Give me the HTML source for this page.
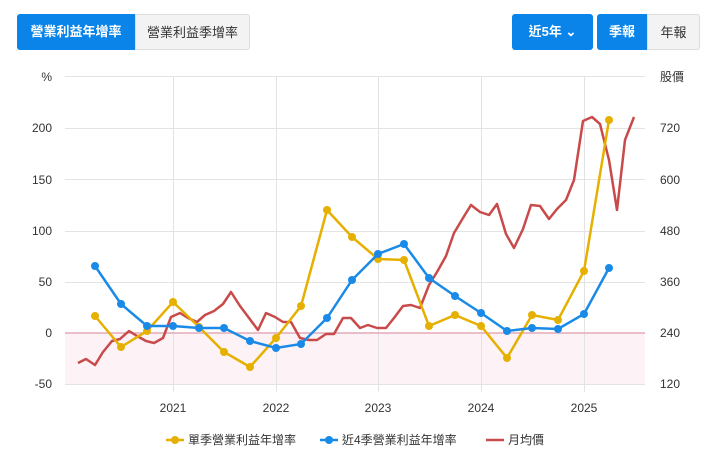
<!DOCTYPE html><html><head><meta charset="utf-8"><style>
body{margin:0;width:709px;height:460px;background:#fff;font-family:"Liberation Sans","Noto Sans CJK TC",sans-serif;overflow:hidden;position:relative}
.b{position:absolute;top:14px;height:36px;line-height:36px;font-size:13px;font-weight:bold;text-align:center;border-radius:3px;box-sizing:border-box}
.on{background:#0a84e8;color:#fff}.off{background:#f3f3f3;color:#333;border:1px solid #ddd}
</style></head><body>
<div class="b on" style="left:17px;width:118px;border-radius:3px 0 0 3px">營業利益年增率</div>
<div class="b off" style="left:135px;width:115px;border-radius:0 3px 3px 0;font-weight:normal">營業利益季增率</div>
<div class="b on" style="left:512px;width:81px">近5年 ⌄</div>
<div class="b on" style="left:597px;width:50px;border-radius:3px 0 0 3px">季報</div>
<div class="b off" style="left:647px;width:53px;border-radius:0 3px 3px 0;font-weight:normal">年報</div>
<svg width="709" height="460" style="position:absolute;left:0;top:0" font-family="Liberation Sans,Noto Sans CJK TC,sans-serif" font-size="12" fill="#333">
<rect x="65" y="333" width="580" height="51" fill="#fdf3f6"/>
<g stroke="#e3e3e3" stroke-width="1">
<line x1="65" x2="645" y1="76.5" y2="76.5"/><line x1="65" x2="645" y1="128.5" y2="128.5"/><line x1="65" x2="645" y1="179.5" y2="179.5"/><line x1="65" x2="645" y1="231.5" y2="231.5"/><line x1="65" x2="645" y1="282.5" y2="282.5"/><line x1="65" x2="645" y1="384.5" y2="384.5"/>
<line x1="173.5" x2="173.5" y1="76" y2="392"/><line x1="276.5" x2="276.5" y1="76" y2="392"/><line x1="378.5" x2="378.5" y1="76" y2="392"/><line x1="481.5" x2="481.5" y1="76" y2="392"/><line x1="584.5" x2="584.5" y1="76" y2="392"/>
</g>
<line x1="65" x2="645" y1="333" y2="333" stroke="#e3aab8" stroke-width="1.5"/>
<g text-anchor="end"><text x="52" y="81">%</text><text x="52" y="132">200</text><text x="52" y="184">150</text><text x="52" y="235">100</text><text x="52" y="286">50</text><text x="52" y="337">0</text><text x="52" y="388">-50</text></g>
<g><text x="660" y="81">股價</text><text x="660" y="132">720</text><text x="660" y="184">600</text><text x="660" y="235">480</text><text x="660" y="286">360</text><text x="660" y="337">240</text><text x="660" y="388">120</text></g>
<g text-anchor="middle"><text x="173" y="412">2021</text><text x="276" y="412">2022</text><text x="378" y="412">2023</text><text x="481" y="412">2024</text><text x="584" y="412">2025</text></g>
<polyline fill="none" stroke="#c94a4a" stroke-width="2.5" stroke-linejoin="round" points="78,363 86,359 95,365 103,352 112,341 120,339 129,331 137,336 146,341 154,343 163,338 171,317 180,313 188,318 197,322 205,315 214,311 223,304 231,292 240,306 249,318 258,330 266,313 275,317 283,322 291,322 300,338 309,340 317,340 326,334 334,334 343,318 351,318 360,328 368,325 377,328 386,328 394,318 403,306 411,305 420,308 429,285 437,272 446,256 454,233 463,218 471,205 480,212 489,215 497,204 506,234 514,248 523,229 531,205 540,206 549,219 557,209 566,200 574,180 583,121 592,117 600,124 609,160 617,210 625,140 634,117"/>
<g fill="#e6b000" stroke="none">
<polyline fill="none" stroke="#e6b000" stroke-width="2.5" points="95,316 121,347 147,331 173,302 199,327 224,352 250,367 276,338 301,306 327,210 352,237 378,259 404,260 429,326 455,315 481,326 507,358 532,315 558,320 584,271 609,120"/>
<circle cx="95" cy="316" r="4"/><circle cx="121" cy="347" r="4"/><circle cx="147" cy="331" r="4"/><circle cx="173" cy="302" r="4"/><circle cx="199" cy="327" r="4"/><circle cx="224" cy="352" r="4"/><circle cx="250" cy="367" r="4"/><circle cx="276" cy="338" r="4"/><circle cx="301" cy="306" r="4"/><circle cx="327" cy="210" r="4"/><circle cx="352" cy="237" r="4"/><circle cx="378" cy="259" r="4"/><circle cx="404" cy="260" r="4"/><circle cx="429" cy="326" r="4"/><circle cx="455" cy="315" r="4"/><circle cx="481" cy="326" r="4"/><circle cx="507" cy="358" r="4"/><circle cx="532" cy="315" r="4"/><circle cx="558" cy="320" r="4"/><circle cx="584" cy="271" r="4"/><circle cx="609" cy="120" r="4"/>
</g>
<g fill="#1a8ae8">
<polyline fill="none" stroke="#1a8ae8" stroke-width="2.5" points="95,266 121,304 147,326 173,326 199,328 224,328 250,341 276,348 301,344 327,318 352,280 378,254 404,244 429,278 455,296 481,313 507,331 532,328 558,329 584,314 609,268"/>
<circle cx="95" cy="266" r="4"/><circle cx="121" cy="304" r="4"/><circle cx="147" cy="326" r="4"/><circle cx="173" cy="326" r="4"/><circle cx="199" cy="328" r="4"/><circle cx="224" cy="328" r="4"/><circle cx="250" cy="341" r="4"/><circle cx="276" cy="348" r="4"/><circle cx="301" cy="344" r="4"/><circle cx="327" cy="318" r="4"/><circle cx="352" cy="280" r="4"/><circle cx="378" cy="254" r="4"/><circle cx="404" cy="244" r="4"/><circle cx="429" cy="278" r="4"/><circle cx="455" cy="296" r="4"/><circle cx="481" cy="313" r="4"/><circle cx="507" cy="331" r="4"/><circle cx="532" cy="328" r="4"/><circle cx="558" cy="329" r="4"/><circle cx="584" cy="314" r="4"/><circle cx="609" cy="268" r="4"/>
</g>
<line x1="166" x2="184" y1="440" y2="440" stroke="#e6b000" stroke-width="2.5"/><circle cx="175" cy="440" r="4" fill="#e6b000"/><text x="188" y="444">單季營業利益年增率</text>
<line x1="320" x2="338" y1="440" y2="440" stroke="#1a8ae8" stroke-width="2.5"/><circle cx="329" cy="440" r="4" fill="#1a8ae8"/><text x="342" y="444">近4季營業利益年增率</text>
<line x1="486" x2="504" y1="440" y2="440" stroke="#c94a4a" stroke-width="2.5"/><text x="508" y="444">月均價</text>
</svg>
</body></html>
